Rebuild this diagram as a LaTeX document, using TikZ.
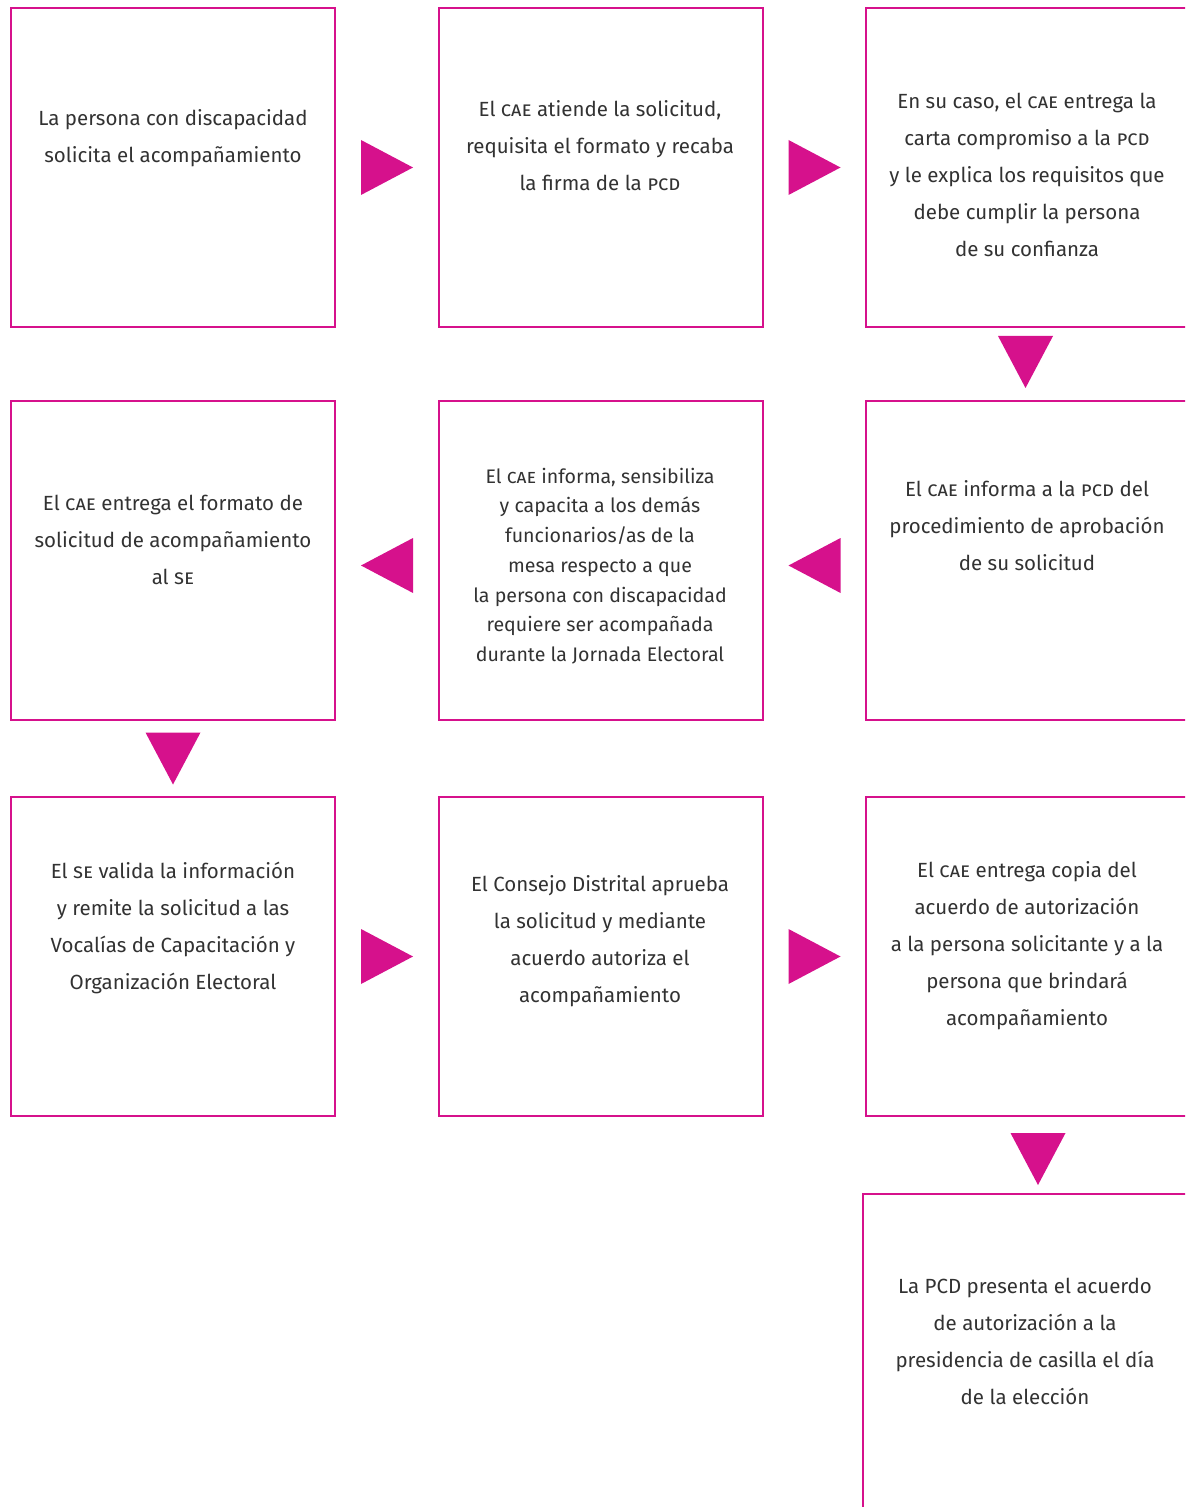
\documentclass[tikz,border=0pt]{standalone}
\usepackage{fontspec}
\setmainfont{Fira Sans}
\usepackage{xcolor}
\usepackage{tikz}
\usetikzlibrary{calc}
\definecolor{inepink}{RGB}{214,17,140}
\definecolor{inkgray}{RGB}{50,50,50}
\newcommand{\sig}[1]{\textsc{#1}}

\begin{document}
\begin{tikzpicture}[
    x=0.5pt, y=-0.5pt,
    stepbox/.style={rectangle, draw=inepink, line width=1pt, inner sep=0pt,
                    minimum width=162pt, minimum height=159.5pt},
    steptext/.style={align=center, text=inkgray, inner sep=0pt,
                     font=\fontsize{10.25pt}{18.5pt}\selectfont},
    tighttext/.style={steptext, font=\fontsize{9.8pt}{14.85pt}\selectfont},
    toright/.pic={\fill[inepink] (-26,-27.5) -- (26,0) -- (-26,27.5) -- cycle;},
    toleft/.pic={\fill[inepink] (26,-27.5) -- (-26,0) -- (26,27.5) -- cycle;},
    todown/.pic={\fill[inepink] (-27.5,-26) -- (27.5,-26) -- (0,26) -- cycle;}
]
\clip (0,0) rectangle (1185,1507);

% Row 1
\node[stepbox] (s1) at (173,167.5) {};
\node[stepbox] (s2) at (601,167.5) {};
\node[stepbox] (s3) at (1028,167.5) {};
\node[steptext] (s1t) at ($(s1)+(0,-29)$) {La persona con discapacidad\\solicita el acompañamiento};
\node[steptext] (s2t) at ($(s2)+(-1,-21.5)$) {El \sig{cae} atiende la solicitud,\\requisita el formato y recaba\\la firma de la \sig{pcd}};
\node[steptext] (s3t) at ($(s3)+(-1,7.5)$) {En su caso, el \sig{cae} entrega la\\carta compromiso a la \sig{pcd}\\y le explica los requisitos que\\debe cumplir la persona\\de su confianza};

% Row 2
\node[stepbox] (s4) at (1028,560.5) {};
\node[stepbox] (s5) at (601,560.5) {};
\node[stepbox] (s6) at (173,560.5) {};
\node[steptext] (s4t) at ($(s4)+(-1,-34.5)$) {El \sig{cae} informa a la \sig{pcd} del\\procedimiento de aprobación\\de su solicitud};
\node[tighttext] (s5t) at ($(s5)+(-1,5.5)$) {El \sig{cae} informa, sensibiliza\\y capacita a los demás\\funcionarios/as de la\\mesa respecto a que\\la persona con discapacidad\\requiere ser acompañada\\durante la Jornada Electoral};
\node[steptext] (s6t) at ($(s6)+(0,-20.5)$) {El \sig{cae} entrega el formato de\\solicitud de acompañamiento\\al \sig{se}};

% Row 3
\node[stepbox] (s7) at (173,956.5) {};
\node[stepbox] (s8) at (601,956.5) {};
\node[stepbox] (s9) at (1028,956.5) {};
\node[steptext] (s7t) at ($(s7)+(0,-29)$) {El \sig{se} valida la información\\y remite la solicitud a las\\Vocalías de Capacitación y\\Organización Electoral};
\node[steptext] (s8t) at ($(s8)+(-1,-15)$) {El Consejo Distrital aprueba\\la solicitud y mediante\\acuerdo autoriza el\\acompañamiento};
\node[steptext] (s9t) at ($(s9)+(-1,-10.5)$) {El \sig{cae} entrega copia del\\acuerdo de autorización\\a la persona solicitante y a la\\persona que brindará\\acompañamiento};

% Row 4
\node[stepbox] (s10) at (1025,1353.5) {};
\node[steptext] (s10t) at ($(s10)+(0,-12)$) {La PCD presenta el acuerdo\\de autorización a la\\presidencia de casilla el día\\de la elección};

% Triangles between the steps
\pic at ($(s1.east)!0.5!(s2.west)$) {toright};
\pic at ($(s2.east)!0.5!(s3.west)$) {toright};
\pic at ($(s3.south)!0.5!(s4.north)+(-2.5,-2)$) {todown};
\pic at ($(s4.west)!0.5!(s5.east)+(0,5)$) {toleft};
\pic at ($(s5.west)!0.5!(s6.east)+(0,5)$) {toleft};
\pic at ($(s6.south)!0.5!(s7.north)$) {todown};
\pic at ($(s7.east)!0.5!(s8.west)$) {toright};
\pic at ($(s8.east)!0.5!(s9.west)$) {toright};
\pic at ($(s9.south)!0.5!(s10.north)+(11.5,4)$) {todown};

\end{tikzpicture}
\end{document}
